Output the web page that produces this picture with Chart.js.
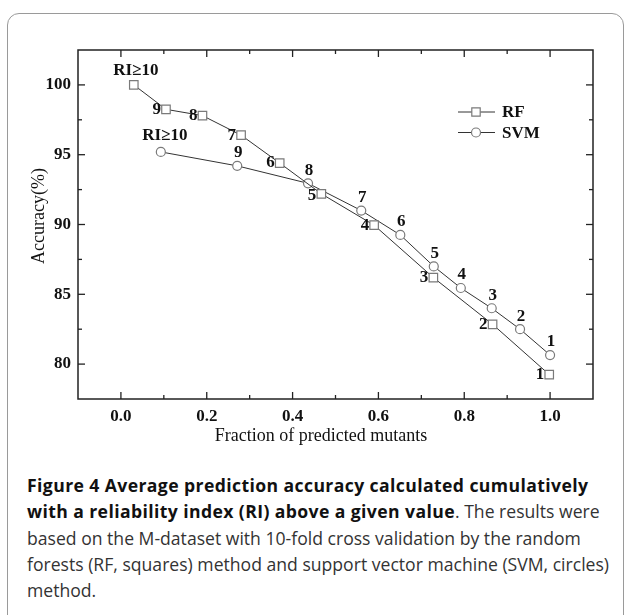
<html>
<head>
<meta charset="utf-8">
<script src="https://cdn.jsdelivr.net/npm/chart.js@4"></script>
<style>
  body { margin: 0; background: #fff; }
  #page { position: relative; width: 626px; height: 615px; overflow: hidden; }
  #frame { position: absolute; left: 7px; top: 13px; width: 615px; height: 640px;
           border: 1.5px solid #9a9a9a; border-radius: 12px; }
  #chart { position: absolute; left: 0; top: 0; }
  #caption { position: absolute; left: 27px; top: 472px; font-family: "Open Sans", sans-serif;
             font-size: 17.6px; line-height: 26.3px; color: #333; white-space: nowrap; }
  #caption b { color: #111; letter-spacing: 0.4px; }
</style>
</head>
<body>
<div id="page">
  <div id="frame"></div>
  <canvas id="chart" width="626" height="460"></canvas>
  <div id="caption">
    <div><b>Figure 4 Average prediction accuracy calculated cumulatively</b></div>
    <div><b>with a reliability index (RI) above a given value</b>. The results were</div>
    <div>based on the M-dataset with 10-fold cross validation by the random</div>
    <div>forests (RF, squares) method and support vector machine (SVM, circles)</div>
    <div>method.</div>
  </div>
</div>

<script type="text/javascript">
    // RI thresholds shown next to each point
    var pointLabels = ['RI\u226510', '9', '8', '7', '6', '5', '4', '3', '2', '1'];

    // fraction of predicted mutants / accuracy (%)
    var rfX   = [0.03, 0.105, 0.19, 0.28, 0.37, 0.467, 0.59, 0.728, 0.866, 0.998];
    var rfY   = [100.0, 98.25, 97.8, 96.4, 94.4, 92.2, 89.95, 86.2, 82.85, 79.25];
    var svmX  = [0.093, 0.271, 0.436, 0.56, 0.651, 0.729, 0.792, 0.864, 0.93, 1.0];
    var svmY  = [95.2, 94.2, 92.95, 91.0, 89.25, 87.0, 85.45, 84.0, 82.5, 80.65];

    var xTicks = [0.0, 0.2, 0.4, 0.6, 0.8, 1.0];
    var yTicks = [80, 85, 90, 95, 100];
    var xMinor = [0.1, 0.3, 0.5, 0.7, 0.9];
    var yMinor = [82.5, 87.5, 92.5, 97.5];

    var serif = '"Liberation Serif", "Times New Roman", serif';

    function toPoints(xs, ys) {
        return xs.map(function (v, i) { return { x: v, y: ys[i] }; });
    }

    function line(ctx, x1, y1, x2, y2) {
        ctx.beginPath();
        ctx.moveTo(x1, y1);
        ctx.lineTo(x2, y2);
        ctx.stroke();
    }

    function marker(ctx, style, x, y) {
        ctx.save();
        ctx.fillStyle = '#fff';
        ctx.strokeStyle = '#7a7a7a';
        ctx.lineWidth = 1.2;
        ctx.beginPath();
        if (style === 'rect') ctx.rect(x - 4.2, y - 4.2, 8.4, 8.4);
        else ctx.arc(x, y, 4.5, 0, Math.PI * 2);
        ctx.fill();
        ctx.stroke();
        ctx.restore();
    }

    // frame, inward ticks, point labels, legend and axis titles
    var decor = {
        id: 'decor',
        afterDatasetsDraw: function (chart) {
            var ctx = chart.ctx;
            ctx.save();
            ctx.fillStyle = '#111';
            ctx.font = 'bold 17px ' + serif;
            ctx.textBaseline = 'middle';
            chart.data.datasets.forEach(function (ds, di) {
                var meta = chart.getDatasetMeta(di);
                meta.data.forEach(function (pt, i) {
                    var txt = pointLabels[i];
                    if (di === 0) {
                        if (i === 0) { ctx.textAlign = 'center'; ctx.fillText(txt, pt.x + 2, pt.y - 14); }
                        else { ctx.textAlign = 'right'; ctx.fillText(txt, pt.x - 5, pt.y + (i === 5 ? 2 : 0)); }
                    } else {
                        ctx.textAlign = 'center';
                        if (i === 0) ctx.fillText(txt, pt.x + 4, pt.y - 16);
                        else ctx.fillText(txt, pt.x + 1, pt.y - 13);
                    }
                });
            });
            ctx.restore();
        },
        afterDraw: function (chart) {
            var ctx = chart.ctx, a = chart.chartArea;
            var xs = chart.scales.x, ys = chart.scales.y;
            ctx.save();
            ctx.strokeStyle = '#222';
            ctx.lineWidth = 1.5;
            ctx.strokeRect(a.left, a.top, a.right - a.left, a.bottom - a.top);
            ctx.lineWidth = 1.3;
            xTicks.forEach(function (v) {
                var p = xs.getPixelForValue(v);
                line(ctx, p, a.bottom, p, a.bottom - 7);
                line(ctx, p, a.top, p, a.top + 7);
            });
            xMinor.forEach(function (v) {
                var p = xs.getPixelForValue(v);
                line(ctx, p, a.bottom, p, a.bottom - 4);
                line(ctx, p, a.top, p, a.top + 4);
            });
            yTicks.forEach(function (v) {
                var p = ys.getPixelForValue(v);
                line(ctx, a.left, p, a.left + 7, p);
                line(ctx, a.right, p, a.right - 7, p);
            });
            yMinor.forEach(function (v) {
                var p = ys.getPixelForValue(v);
                line(ctx, a.left, p, a.left + 4, p);
                line(ctx, a.right, p, a.right - 4, p);
            });

            // legend
            var lx = a.right - 135;
            ctx.fillStyle = '#111';
            ctx.font = 'bold 17px ' + serif;
            ctx.textAlign = 'left';
            ctx.textBaseline = 'middle';
            chart.data.datasets.forEach(function (ds, i) {
                var ly = a.top + 62 + i * 20.5;
                ctx.strokeStyle = '#333';
                ctx.lineWidth = 1;
                line(ctx, lx, ly, lx + 37, ly);
                marker(ctx, ds.pointStyle, lx + 18, ly);
                ctx.fillText(ds.label, lx + 44, ly + 1);
            });

            // axis titles
            ctx.font = '18px ' + serif;
            ctx.textAlign = 'center';
            ctx.fillText('Fraction of predicted mutants', a.left + 243, a.bottom + 37);
            ctx.translate(39, a.top + 166);
            ctx.rotate(-Math.PI / 2);
            ctx.fillText('Accuracy(%)', 0, 0);
            ctx.restore();
        }
    };

    new Chart(document.getElementById('chart'), {
        type: 'scatter',
        data: {
            datasets: [{
                label: 'RF',
                data: toPoints(rfX, rfY),
                showLine: true,
                borderColor: '#333',
                borderWidth: 1,
                pointStyle: 'rect',
                pointRadius: 6,
                pointBorderWidth: 1.2,
                pointBorderColor: '#7a7a7a',
                pointBackgroundColor: '#fff'
            }, {
                label: 'SVM',
                data: toPoints(svmX, svmY),
                showLine: true,
                borderColor: '#333',
                borderWidth: 1,
                pointStyle: 'circle',
                pointRadius: 4.5,
                pointBorderWidth: 1.2,
                pointBorderColor: '#7a7a7a',
                pointBackgroundColor: '#fff'
            }]
        },
        options: {
            responsive: false,
            animation: false,
            layout: { padding: { top: 50, right: 33, left: 0, bottom: 0 } },
            plugins: { legend: { display: false }, tooltip: { enabled: false } },
            scales: {
                x: {
                    type: 'linear',
                    min: -0.1,
                    max: 1.1,
                    grid: { display: false, tickLength: 7 },
                    border: { display: false },
                    afterBuildTicks: function (s) { s.ticks = xTicks.map(function (v) { return { value: v }; }); },
                    afterFit: function (s) { s.height = 61; },
                    ticks: {
                        padding: 0,
                        color: '#111',
                        font: { family: serif, size: 17, weight: 'bold' },
                        callback: function (v) { return Number(v).toFixed(1); }
                    }
                },
                y: {
                    min: 77.5,
                    max: 102.5,
                    grid: { display: false, tickLength: 7 },
                    border: { display: false },
                    afterBuildTicks: function (s) { s.ticks = yTicks.map(function (v) { return { value: v }; }); },
                    afterFit: function (s) { s.width = 78; },
                    ticks: {
                        padding: 0,
                        color: '#111',
                        font: { family: serif, size: 17, weight: 'bold' }
                    }
                }
            }
        },
        plugins: [decor]
    });
</script>
</body>
</html>
